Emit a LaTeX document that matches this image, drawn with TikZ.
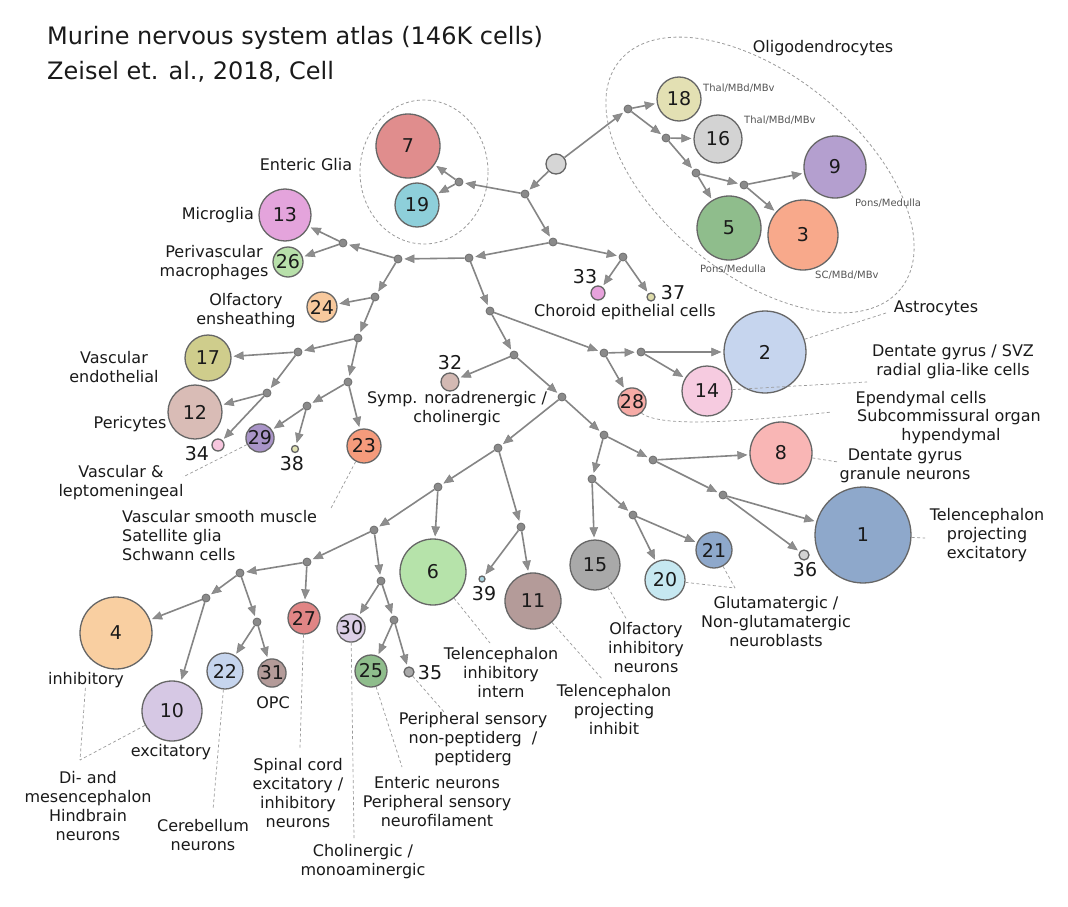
\documentclass[tikz,border=0pt]{standalone}
\usepackage{fontspec}
\setmainfont{DejaVu Sans}
\usetikzlibrary{arrows.meta}
\definecolor{edgec}{HTML}{858585}
\definecolor{arrfill}{HTML}{8E8E8E}
\definecolor{circc}{HTML}{666666}
\definecolor{jfill}{HTML}{8A8A8A}
\definecolor{jdraw}{HTML}{6E6E6E}
\definecolor{leadc}{HTML}{9A9A9A}
\definecolor{smallc}{HTML}{555555}
\definecolor{txt}{HTML}{1A1A1A}
\definecolor{croot}{HTML}{D6D6D6}
\definecolor{c1}{HTML}{8EA8CB}
\definecolor{c2}{HTML}{C6D5EE}
\definecolor{c3}{HTML}{F8A98B}
\definecolor{c4}{HTML}{F9CFA1}
\definecolor{c5}{HTML}{8FBD8C}
\definecolor{c6}{HTML}{B6E3AA}
\definecolor{c7}{HTML}{E08D8D}
\definecolor{c8}{HTML}{F9B6B5}
\definecolor{c9}{HTML}{B49FCF}
\definecolor{c10}{HTML}{D6C8E4}
\definecolor{c11}{HTML}{B49B99}
\definecolor{c12}{HTML}{D9BCB6}
\definecolor{c13}{HTML}{E4A4DC}
\definecolor{c14}{HTML}{F6CBE0}
\definecolor{c15}{HTML}{A9A9A9}
\definecolor{c16}{HTML}{D3D3D3}
\definecolor{c17}{HTML}{CFCD8C}
\definecolor{c18}{HTML}{E3E0B3}
\definecolor{c19}{HTML}{8ECFDA}
\definecolor{c20}{HTML}{C6E8F1}
\definecolor{c21}{HTML}{8EA8CB}
\definecolor{c22}{HTML}{C6D5EE}
\definecolor{c23}{HTML}{F59B7C}
\definecolor{c24}{HTML}{F8C99D}
\definecolor{c25}{HTML}{8FBD8C}
\definecolor{c26}{HTML}{B8E0AA}
\definecolor{c27}{HTML}{E08585}
\definecolor{c28}{HTML}{F6ABA6}
\definecolor{c29}{HTML}{A994C8}
\definecolor{c30}{HTML}{DCCFE6}
\definecolor{c31}{HTML}{B49B99}
\definecolor{c32}{HTML}{D3B9B3}
\definecolor{c33}{HTML}{E7A2DC}
\definecolor{c34}{HTML}{F7C6DE}
\definecolor{c35}{HTML}{A9A9A9}
\definecolor{c36}{HTML}{D3D3D3}
\definecolor{c37}{HTML}{DEDCAA}
\definecolor{c38}{HTML}{E2E3B5}
\definecolor{c39}{HTML}{A9D4E0}
\newcommand\bubble[5]{\node[circ,minimum size=#4pt,fill=#5] (#1) at (#2) {#3};}
\newcommand\junc[2]{\node[jn] (#1) at (#2) {};}
\begin{document}
\begin{tikzpicture}[x=1pt,y=-1pt,
  circ/.style={circle,draw=circc,line width=1.3pt,inner sep=0pt,text=txt,font=\fontsize{19}{19}\selectfont},
  jn/.style={circle,fill=jfill,draw=jdraw,line width=0.8pt,inner sep=0pt,minimum size=8pt},
  edge/.style={draw=edgec,line width=1.6pt,-{Triangle[length=10pt,width=8.5pt,line width=0.6pt,fill=arrfill]},shorten >=2pt},
  leader/.style={draw=leadc,line width=0.7pt,dash pattern=on 3pt off 2.5pt},
  encl/.style={draw=leadc,line width=0.8pt,dash pattern=on 3pt off 2.5pt},
  lab/.style={font=\fontsize{16}{19}\selectfont,align=center,inner sep=0pt,text=txt},
  num/.style={font=\fontsize{19}{19}\selectfont,inner sep=0pt,text=txt},
  small/.style={font=\fontsize{10}{12}\selectfont,text=smallc,inner sep=0pt},
  ttl/.style={font=\fontsize{24}{28}\selectfont,inner sep=0pt,text=txt}
]
\useasboundingbox (0,0) rectangle (1068,907);
\fill[white] (0,0) rectangle (1068,907);

% titles
\node[ttl,anchor=base west] (t1) at (47,45) {Murine nervous system atlas (146K cells)};
\node[ttl,anchor=base west] (t2) at (47,79) {Zeisel et. al., 2018, Cell};

% enclosures
\draw[encl] (424,172) ellipse [x radius=64, y radius=72];
\draw[encl,rotate around={-39:(760,175)}] (760,175) ellipse [x radius=181, y radius=100];

% bubbles
\bubble{root}{556,164}{}{20}{croot}
\bubble{n18}{679,99}{18}{44}{c18}
\bubble{n16}{718,139}{16}{48}{c16}
\bubble{n9}{835,167}{9}{62}{c9}
\bubble{n5}{729,228}{5}{64}{c5}
\bubble{n3}{803,235}{3}{70}{c3}
\bubble{n7}{408,146}{7}{64}{c7}
\bubble{n19}{417,205}{19}{44}{c19}
\bubble{n13}{285,215}{13}{52}{c13}
\bubble{n26}{288,262}{26}{30}{c26}
\bubble{n24}{322,307}{24}{30}{c24}
\bubble{n17}{208,358}{17}{46}{c17}
\bubble{n12}{195,412}{12}{54}{c12}
\bubble{n34}{218,445}{}{12}{c34}
\bubble{n29}{260,438}{29}{26}{c29}
\bubble{n38}{295,449}{}{7}{c38}
\bubble{n23}{364,446}{23}{34}{c23}
\bubble{n33}{598,293}{}{14}{c33}
\bubble{n37}{651,297}{}{8}{c37}
\bubble{n32}{450,382}{}{18}{c32}
\bubble{n2}{765,352}{2}{82}{c2}
\bubble{n14}{707,391}{14}{50}{c14}
\bubble{n28}{632,402}{28}{26}{c28}
\bubble{n8}{781,453}{8}{62}{c8}
\bubble{n1}{863,535}{1}{96}{c1}
\bubble{n36}{804,555}{}{10}{c36}
\bubble{n15}{595,565}{15}{50}{c15}
\bubble{n20}{665,580}{20}{40}{c20}
\bubble{n21}{714,550}{21}{36}{c21}
\bubble{n6}{433,572}{6}{66}{c6}
\bubble{n39}{482,579}{}{6}{c39}
\bubble{n11}{533,601}{11}{56}{c11}
\bubble{n27}{304,618}{27}{32}{c27}
\bubble{n30}{351,628}{30}{24}{c30}
\bubble{n25}{371,671}{25}{32}{c25}
\bubble{n35}{409,672}{}{10}{c35}
\bubble{n22}{225,671}{22}{36}{c22}
\bubble{n31}{272,673}{31}{22}{c31}
\bubble{n4}{116,633}{4}{72}{c4}
\bubble{n10}{172,711}{10}{60}{c10}

% junctions
\junc{jO}{628,109}
\junc{jO2}{666,138}
\junc{jO3}{696,173}
\junc{jO4}{744,185}
\junc{j1}{525,194}
\junc{jE}{459,182}
\junc{j2}{553,242}
\junc{j3}{469,258}
\junc{jCh}{623,257}
\junc{jL}{398,259}
\junc{jM}{343,243}
\junc{jO1}{375,297}
\junc{jV}{358,338}
\junc{jV1}{298,352}
\junc{jV2}{267,393}
\junc{jV3}{348,382}
\junc{jV4}{307,406}
\junc{jN}{490,311}
\junc{jA}{604,353}
\junc{jA2}{641,352}
\junc{jS}{514,355}
\junc{jS2}{562,397}
\junc{jT}{604,435}
\junc{jT1}{592,479}
\junc{jT2}{653,460}
\junc{jT3}{723,495}
\junc{jT4}{633,515}
\junc{jD}{498,448}
\junc{jD1}{438,487}
\junc{jD2}{521,527}
\junc{jD3}{374,530}
\junc{jD4}{307,562}
\junc{jD5}{381,581}
\junc{jD6}{240,573}
\junc{jD7}{206,598}
\junc{jD8}{257,622}
\junc{jD9}{394,620}

% edges
\foreach \a/\b in {root/j1, root/jO, jO/n18, jO/jO2, jO2/n16, jO2/jO3, jO3/n5, jO3/jO4, jO4/n9, jO4/n3,
  j1/jE, jE/n7, jE/n19, j1/j2, j2/j3, j2/jCh, jCh/n33, jCh/n37,
  j3/jL, jL/jM, jM/n13, jM/n26, jL/jO1, jO1/n24, jO1/jV,
  jV/jV1, jV1/n17, jV1/jV2, jV2/n12, jV2/n34, jV/jV3, jV3/jV4, jV4/n29, jV4/n38, jV3/n23,
  j3/jN, jN/jA, jA/jA2, jA2/n2, jA2/n14, jA/n28, jN/jS, jS/n32, jS/jS2,
  jS2/jD, jS2/jT, jT/jT1, jT/jT2, jT2/n8, jT2/jT3, jT3/n1, jT3/n36,
  jT1/n15, jT1/jT4, jT4/n20, jT4/n21,
  jD/jD1, jD/jD2, jD2/n39, jD2/n11, jD1/n6, jD1/jD3, jD3/jD4, jD3/jD5,
  jD4/jD6, jD4/n27, jD6/jD7, jD6/jD8, jD7/n4, jD7/n10, jD8/n22, jD8/n31,
  jD5/n30, jD5/jD9, jD9/n25, jD9/n35}
  {\draw[edge] (\a) -- (\b);}

% labels
\node[lab] (lenteric) at (306,165) {Enteric Glia};
\node[lab,anchor=east] (lmicro) at (254,215) {Microglia};
\node[lab] (lperi) at (214,263) {Perivascular\\macrophages};
\node[lab] (lolf) at (246,311) {Olfactory\\ensheathing};
\node[lab] (lvend) at (114,367) {Vascular\\endothelial};
\node[lab] (lpericy) at (130,424) {Pericytes};
\node[num] (l34) at (197,454) {34};
\node[num] (l38) at (292,464) {38};
\node[lab] (lvlep) at (121,483) {Vascular \&\\leptomeningeal};
\node[lab,align=left,anchor=west] (lvsm) at (122,536) {Vascular smooth muscle\\Satellite glia\\Schwann cells};
\node[num] (l32) at (450,363) {32};
\node[lab] (lsymp) at (457,409) {Symp. noradrenergic /\\cholinergic};
\node[num] (l33) at (585,277) {33};
\node[num] (l37) at (673,293) {37};
\node[lab] (lchor) at (625,312) {Choroid epithelial cells};
\node[lab] (loligo) at (823,48) {Oligodendrocytes};
\node[small,anchor=west] (s18) at (703,88) {Thal/MBd/MBv};
\node[small,anchor=west] (s16) at (744,120) {Thal/MBd/MBv};
\node[small,anchor=west] (s9) at (855,203) {Pons/Medulla};
\node[small,anchor=west] (s5) at (700,269) {Pons/Medulla};
\node[small,anchor=west] (s3) at (815,275) {SC/MBd/MBv};
\node[lab] (lastro) at (936,308) {Astrocytes};
\node[lab] (ldg) at (953,362) {Dentate gyrus / SVZ\\radial glia-like cells};
\node[lab] (lep1) at (921,399) {Ependymal cells};
\node[lab] (lep2) at (949,417) {Subcommissural organ};
\node[lab] (lep3) at (951,436) {hypendymal};
\node[lab] (ldgg) at (905,466) {Dentate gyrus\\granule neurons};
\node[lab] (ltpe) at (987,535) {Telencephalon\\projecting\\excitatory};
\node[lab] (lglu) at (776,622) {Glutamatergic /\\Non-glutamatergic\\neuroblasts};
\node[lab] (lolfi) at (646,648) {Olfactory\\inhibitory\\neurons};
\node[lab] (ltpi) at (614,710) {Telencephalon\\projecting\\inhibit};
\node[lab] (ltii) at (501,673) {Telencephalon\\inhibitory\\intern};
\node[lab] (lpsn) at (473,739) {Peripheral sensory\\non-peptiderg~~/\\peptiderg};
\node[lab] (lent) at (437,802) {Enteric neurons\\Peripheral sensory\\neurofilament};
\node[lab] (lchol) at (363,862) {Cholinergic /\\monoaminergic};
\node[lab] (lspin) at (298,793) {Spinal cord\\excitatory /\\inhibitory\\neurons};
\node[lab] (lcer) at (203,835) {Cerebellum\\neurons};
\node[lab] (lopc) at (273,703) {OPC};
\node[lab] (ldi) at (88,806) {Di- and\\mesencephalon\\Hindbrain\\neurons};
\node[lab] (linh) at (86,680) {inhibitory};
\node[lab] (lexc) at (171,752) {excitatory};
\node[num] (l39) at (484,594) {39};
\node[num] (l35) at (430,673) {35};
\node[num] (l36) at (805,570) {36};

% leader line ends
\coordinate (eastro) at (886,313);
\coordinate (edg) at (867,382);
\coordinate (eep) at (832,412);
\coordinate (e8) at (838,462);
\coordinate (e1) at (925,538);
\coordinate (eglu) at (735,588);
\coordinate (e15) at (627,620);
\coordinate (e11) at (603,680);
\coordinate (e6) at (490,643);
\coordinate (e35) at (445,713);
\coordinate (e25) at (402,767);
\coordinate (e30) at (354,838);
\coordinate (e27) at (300,748);
\coordinate (e22) at (213,810);
\coordinate (edi) at (80,760);
\coordinate (e29) at (183,477);
\coordinate (e23) at (330,510);

\draw[leader] (n2) -- (eastro);
\draw[leader] (n14) -- (edg);
\draw[leader] (n28.-50) .. controls (660,426) and (720,424) .. (eep);
\draw[leader] (n8) -- (e8);
\draw[leader] (n1) -- (e1);
\draw[leader] (n20) -- (eglu);
\draw[leader] (n21) -- (eglu);
\draw[leader] (n15) -- (e15);
\draw[leader] (n11) -- (e11);
\draw[leader] (n6) -- (e6);
\draw[leader] (n35) -- (e35);
\draw[leader] (n25) -- (e25);
\draw[leader] (n30) -- (e30);
\draw[leader] (n27) -- (e27);
\draw[leader] (n22) -- (e22);
\draw[leader] (linh) -- (edi);
\draw[leader] (n10) -- (edi);
\draw[leader] (n29) -- (e29);
\draw[leader] (n23) -- (e23);
\end{tikzpicture}
\end{document}
